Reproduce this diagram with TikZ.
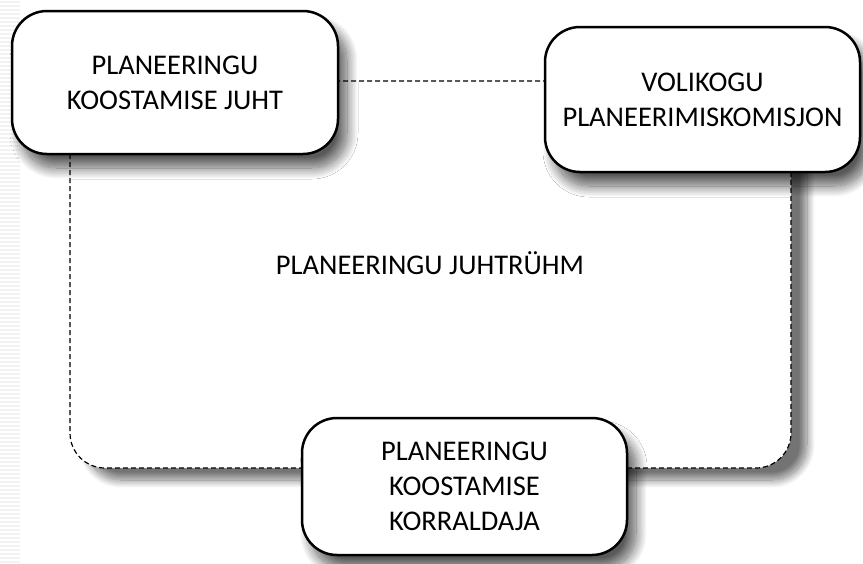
\documentclass[tikz,border=0pt]{standalone}
\usepackage{fontspec}
\setmainfont{Carlito}
\usetikzlibrary{shadows.blur}

\begin{document}
\begin{tikzpicture}[x=1pt,y=-1pt]
	\tikzstyle{box} = [draw,fill=white,line width=2.5pt,rounded corners=35pt,align=center,
		font=\fontsize{28.5}{35}\selectfont,
		blur shadow={shadow xshift=9pt,shadow yshift=-14pt,shadow blur radius=11pt,shadow blur steps=20,shadow opacity=65}]
	\tikzstyle{group} = [draw,fill=white,line width=1.2pt,dash pattern=on 5pt off 3pt,rounded corners=35pt,inner sep=0pt,
		blur shadow={shadow xshift=16pt,shadow yshift=-12pt,shadow blur radius=8pt,shadow blur steps=16,shadow opacity=55}]
	
	\useasboundingbox (0,0) rectangle (863,563);
	% faint stripes on the left edge
	\foreach \y in {2,6,...,562}
		\draw[black!5,line width=1.4pt] (0,\y) -- (20,\y);
	
	\node[group,minimum width=721pt,minimum height=387pt] (team) at (430.5,274.5) {};
	\node[font=\fontsize{28.5}{35}\selectfont] (title) at (430,263) {PLANEERINGU JUHTRÜHM};
	
	\node[box,minimum width=326pt,minimum height=143pt] (lead) at (175,82.5) {PLANEERINGU\\KOOSTAMISE JUHT};
	\node[box,minimum width=315pt,minimum height=145pt] (council) at (702.5,99.5) {VOLIKOGU\\PLANEERIMISKOMISJON};
	\node[box,minimum width=325pt,minimum height=137pt] (organiser) at (464.5,486.5) {PLANEERINGU\\KOOSTAMISE\\KORRALDAJA};
\end{tikzpicture}
\end{document}
